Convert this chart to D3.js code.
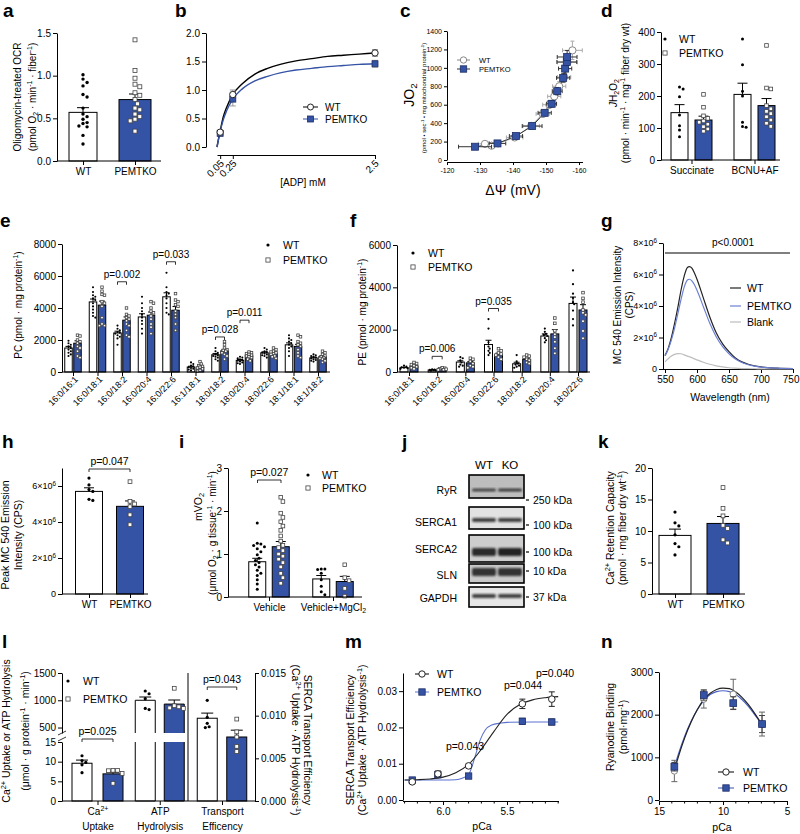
<!DOCTYPE html>
<html><head><meta charset="utf-8">
<script src="https://cdn.jsdelivr.net/npm/d3@7"></script>
<style>body{margin:0;background:#fff;}svg{display:block;}text{font-family:"Liberation Sans",Arial,Helvetica,sans-serif;}</style>
</head><body><script>
// ================= DATA =================
// a
const aCats = ["WT","PEMTKO"];
const aMeans = [0.57, 0.72];
const aSem = [0.055, 0.065];
const aWT = [1.01,0.96,0.92,0.88,0.78,0.75,0.62,0.55,0.52,0.49,0.45,0.44,0.41,0.40,0.30,0.20];
const aKO = [1.42,1.06,0.97,0.90,0.87,0.80,0.77,0.72,0.67,0.62,0.60,0.55,0.52,0.49,0.47,0.35];
const aTicks = [0,0.5,1.0,1.5];
// b
const bX = [0.05,0.25,2.5];
const bWT = [0.26,0.92,1.65], bWTerr = [0.03,0.08,0.06];
const bKO = [0.24,0.84,1.46], bKOerr = [0.03,0.12,0.06];
const bFitX  = [0,0.02,0.05,0.1,0.15,0.25,0.4,0.6,0.8,1.0,1.25,1.5,1.75,2.0,2.25,2.5];
const bFitWT = [0,0.12,0.28,0.53,0.69,0.92,1.11,1.28,1.38,1.45,1.51,1.55,1.59,1.61,1.63,1.65];
const bFitKO = [0,0.11,0.27,0.48,0.63,0.84,1.02,1.16,1.24,1.30,1.35,1.38,1.41,1.43,1.45,1.46];
const bYTicks = [0,0.5,1.0,1.5,2.0];
// c
const cWTx = [-131.5,-133.5,-140.5,-145.5,-149,-151,-152.5,-154,-155.5,-156.5,-158];
const cWTy = [175,155,245,370,500,600,690,800,900,1060,1190];
const cWTxe = [2,2,2.5,2.5,2,2,2,2,2,3,3];
const cWTye = [20,20,25,30,35,40,40,50,60,80,100];
const cKOx = [-128.5,-135.3,-140.9,-145.8,-149.6,-151.7,-153.4,-155.2,-155.8,-156.3,-156.4];
const cKOy = [144,180,260,368,512,610,747,891,992,1064,1118];
const cKOxe = [5,2.5,2,3,2,1.5,1.5,2,2,3,3];
const cKOye = [15,20,20,25,30,35,40,45,50,60,70];
const cYTicks = [0,200,400,600,800,1000,1200,1400];
const cXTicks = [-120,-130,-140,-150,-160];
// d
const dCats = ["Succinate","BCNU+AF"];
const dMeansWT = [148,205], dSemWT = [25,35];
const dMeansKO = [125,170], dSemKO = [12,22];
const dPtsWT = [[228,222,198,141,107,94,73],[378,298,215,200,118,105,102]];
const dPtsKO = [[205,165,138,130,122,118,112,104,97,90],[358,225,222,170,160,152,145,135,125,115,105]];
const dTicks = [0,100,200,300,400];
// e
const eCats = ["16:0/16:1","16:0/18:1","16:0/18:2","16:0/20:4","16:0/22:6","16:1/18:1","18:0/18:2","18:0/20:4","18:0/22:6","18:1/18:1","18:1/18:2"];
const eMeansWT = [1500,4380,2440,3440,4700,310,1080,730,1200,1700,880];
const eMeansKO = [1800,4180,3240,3550,3860,300,1320,1040,1180,1600,950];
const eSemWT = [100,180,110,200,250,50,80,50,60,120,50];
const eSemKO = [150,250,200,200,230,60,90,50,60,130,60];
const ePtsWT = [[1950,1800,1700,1600,1500,1400,1300,1200,1100,1000],[5300,5000,4800,4700,4600,4500,4300,4100,3900,3700,3500,3400],[2900,2700,2600,2500,2450,2400,2300,2200,2100,1700],[4700,4300,4000,3800,3600,3400,3200,3000,2700,2400],[6200,5300,5000,4900,4800,4600,4300,4000,3700,3600],[600,500,400,350,300,250,200,150,100],[1500,1300,1200,1100,1050,1000,950,900,800,700],[950,900,850,800,750,700,650,600,550,500],[1500,1400,1300,1250,1200,1150,1100,1050,1000,900],[2300,2100,2000,1900,1800,1700,1600,1500,1300,1000],[1100,1050,1000,950,900,850,800,750,700,650]];
const ePtsKO = [[2300,2250,2000,1900,1800,1600,1500,1300,1000,900],[5300,5050,4850,4800,4400,4300,4100,3400,3000,2900,2900],[4000,3600,3500,3400,3300,3200,3000,2900,2600,2300,2200],[4400,4300,4000,3800,3700,3500,3300,3000,2800,2400],[4900,4500,4400,4200,4100,3800,3600,3400,3000,2600],[650,500,400,350,300,250,200,100,50],[1900,1700,1500,1400,1350,1300,1200,1100,1000,800],[1250,1200,1150,1100,1050,1000,950,900,800,700],[1500,1400,1300,1250,1200,1150,1100,1000,950,850],[2300,2200,1900,1800,1700,1600,1400,1200,1000,900],[1300,1200,1100,1000,950,900,850,800,700,600]];
const eTicks = [0,2000,4000,6000,8000];
const eP = [{cat:"16:0/18:2",v:5640,t:"p=0.002"},{cat:"16:0/22:6",v:6890,t:"p=0.033"},{cat:"18:0/18:2",v:2190,t:"p=0.028"},{cat:"18:0/20:4",v:3240,t:"p=0.011"}];
// f
const fCats = ["16:0/18:1","16:0/18:2","16:0/20:4","16:0/22:6","18:0/18:2","18:0/20:4","18:0/22:6"];
const fMeansWT = [205,95,470,1300,390,1700,3240];
const fMeansKO = [285,140,430,820,600,1800,2930];
const fSemWT = [20,10,60,200,70,100,300];
const fSemKO = [40,15,60,70,50,200,250];
const fPtsWT = [[300,250,220,200,180,150],[130,110,100,90,80,60],[700,650,550,450,350,300,250],[2500,2050,1400,1200,1100,1000,900,800],[800,500,400,350,300,250,200],[2050,1900,1800,1750,1700,1600,1500,1400],[4800,4150,3700,3500,3300,3200,2900,2500,2200]];
const fPtsKO = [[450,400,350,300,250,200,150],[200,180,150,130,110,100],[650,600,500,400,300,250,200],[1100,1000,900,850,800,700,600],[800,750,700,600,550,450,400],[2550,2300,1950,1780,1650,1430,1120,880],[3750,3480,3300,2930,2800,2700,2400,1940,1590]];
const fTicks = [0,2000,4000,6000];
const fP = [{cat:"16:0/18:2",v:740,t:"p=0.006"},{cat:"16:0/22:6",v:3000,t:"p=0.035"}];
// g
const gNm    = [550,555,560,565,570,575,580,585,588,592,596,600,610,620,630,640,650,660,670,680,690,700,725,750];
const gWT    = [0.85,1.3,2.0,2.9,3.9,5.0,5.9,6.45,6.5,6.4,6.1,5.7,4.5,3.3,2.3,1.6,1.1,0.7,0.45,0.3,0.2,0.13,0.05,0.02];
const gKO    = [0.85,1.25,1.85,2.6,3.5,4.4,5.2,5.65,5.7,5.6,5.35,5.0,3.95,2.9,2.05,1.42,0.97,0.63,0.41,0.27,0.18,0.12,0.05,0.02];
const gBlank = [0.45,0.65,0.82,0.93,0.98,0.97,0.9,0.82,0.78,0.72,0.64,0.58,0.43,0.3,0.2,0.13,0.08,0.05,0.03,0.02,0.015,0.01,0.005,0];
const gYTicks = [0,2e6,4e6,6e6,8e6];
const gXTicks = [550,600,650,700,750];
// h
const hCats = ["WT","PEMTKO"];
const hMeans = [5.7e6,4.87e6], hSem = [0.2e6,0.3e6];
const hWT = [6.44e6,6.06e6,5.8e6,5.7e6,5.26e6,5.2e6];
const hKO = [6.24e6,5.15e6,5.0e6,4.85e6,4.4e6,3.85e6];
const hTicks = [0,2e6,4e6,6e6];
// i
const iCats = ["Vehicle","Vehicle+MgCl_{2}"];
const iMeansWT = [0.82,0.42], iSemWT = [0.08,0.08];
const iMeansKO = [1.17,0.36], iSemKO = [0.12,0.12];
const iPtsWT = [[1.72,1.25,1.23,1.2,1.17,1.12,1.05,0.98,0.9,0.85,0.8,0.75,0.7,0.62,0.55,0.5,0.4,0.3,0.18],[0.65,0.65,0.64,0.55,0.4,0.25,0.12,0.05]];
const iPtsKO = [[2.32,2.22,1.95,1.85,1.75,1.65,1.55,1.42,1.3,1.2,1.15,1.08,1.0,0.95,0.88,0.8,0.7,0.55,0.45,0.32],[0.75,0.45,0.38,0.2,0.02]];
const iTicks = [0,1,2,3];
// j
const blotProteins = ["RyR","SERCA1","SERCA2","SLN","GAPDH"];
const blotMarkers = ["250 kDa","100 kDa","100 kDa","10 kDa","37 kDa"];
const blotLanes = ["WT","KO"];
const blotIntensity = [[0.8,0.85],[0.85,0.85],[0.95,1.0],[0.9,0.9],[0.85,0.85]];
// k
const kCats = ["WT","PEMTKO"];
const kMeans = [9.3,11.2], kSem = [1.0,1.1];
const kWT = [13.0,11.3,10.8,9.4,8.0,7.5,6.2];
const kKO = [16.9,13.6,12.4,10.9,10.4,8.6,8.1];
const kTicks = [0,5,10,15,20];
// l
const lCats = ["Ca^{2+}|Uptake","ATP|Hydrolysis","Transport|Efficency"];
const lMeansWT = [9.6,1000,0.0097], lSemWT = [0.8,60,0.0006];
const lMeansKO = [6.9,930,0.0075], lSemKO = [0.4,75,0.0008];
const lPtsWT = [[11.5,10.3,9.8,9.2,7.2],[1170,1120,1030,850,830],[0.0118,0.0098,0.0091,0.0087,0.0086]];
const lPtsKO = [[7.8,7.8,7.7,7.0,4.5],[1220,900,880,860,850],[0.0096,0.0081,0.0075,0.0064,0.0058]];
const lLoTicks = [0,5,10,15], lHiTicks = [500,1000,1500], lRTicks = [0,0.005,0.010,0.015];
// m
const mPCa = [6.24,6.04,5.80,5.38,5.15];
const mWT = [0.0050,0.0072,0.0094,0.0265,0.0278], mWTerr = [0.0004,0.0008,0.0005,0.0013,0.0020];
const mKO = [0.0055,0.0070,0.0066,0.0217,0.0215], mKOerr = [0.0004,0.0005,0.0005,0.0008,0.0008];
const mFitX  = [6.3,6.2,6.1,6.0,5.9,5.8,5.7,5.6,5.5,5.4,5.3,5.2,5.1];
const mFitWT = [0.0055,0.0056,0.0058,0.0063,0.0075,0.0098,0.0140,0.0190,0.0236,0.0263,0.0276,0.0282,0.0285];
const mFitKOx = [6.3,6.0,5.9,5.85,5.8,5.75,5.71,5.67,5.62,5.55,5.5,5.3,5.1];
const mFitKO  = [0.0055,0.0055,0.0056,0.0060,0.0070,0.0119,0.0165,0.0193,0.0207,0.0212,0.0214,0.0215,0.0215];
const mYTicks = [0,0.01,0.02,0.03], mXTicks = [6.0,5.5];
// n
const nPCa = [13.8,11.5,9.2,6.95];
const nWT = [680,2365,2480,1780], nWTerr = [250,210,350,280];
const nKO = [780,2460,2270,1780], nKOerr = [100,120,150,200];
const nFitX  = [13.8,13.5,13,12.5,12,11.5,11,10.5,10,9.5,9,8.5,8,7.5,6.95];
const nFitWT = [690,1000,1450,1820,2120,2350,2500,2590,2620,2610,2530,2400,2230,2020,1760];
const nFitKO = [760,1060,1490,1840,2120,2330,2470,2540,2560,2540,2470,2350,2190,1990,1780];
const nYTicks = [0,1000,2000,3000], nXTicks = [15,10,5];

// ================= HELPERS =================
const FONT = '"Liberation Sans", Arial, Helvetica, sans-serif';
const BLUE = "#3553a5", BLUE_S = "#1e2f66";
const svg = d3.select("body").append("svg").attr("width",800).attr("height",834).attr("font-family",FONT);
svg.append("rect").attr("width",800).attr("height",834).attr("fill","#fff");
const defs = svg.append("defs");
defs.append("filter").attr("id","blur").attr("x","-20%").attr("y","-50%").attr("width","140%").attr("height","200%")
  .append("feGaussianBlur").attr("stdDeviation",1.1);

function rich(t, s, fs) {
  const parts = s.split(/(\^\{[^}]*\}|_\{[^}]*\}|~\{[^}]*\})/).filter(p => p !== "");
  let shift = 0;
  parts.forEach(p => {
    let target = 0, txt = p, small = false, ital = false;
    if (p.startsWith("^{")) { target = -fs*0.38; txt = p.slice(2,-1); small = true; }
    else if (p.startsWith("_{")) { target = fs*0.22; txt = p.slice(2,-1); small = true; }
    else if (p.startsWith("~{")) { txt = p.slice(2,-1); ital = true; }
    const sp = t.append("tspan").text(txt);
    if (target - shift !== 0) sp.attr("dy", target - shift);
    if (small) sp.attr("font-size", fs*0.7);
    if (ital) sp.attr("font-style","italic");
    shift = target;
  });
  return t;
}
function txt(x, y, s, fs=10, anchor="start", extra={}) {
  const t = svg.append("text").attr("x",x).attr("y",y).attr("font-size",fs).attr("text-anchor",anchor).attr("fill",extra.fill||"#000");
  if (extra.weight) t.attr("font-weight",extra.weight);
  return rich(t, s, fs);
}
function vlabel(s, cx, cy, fs=10, rot=-90) {
  const bx = rot === -90 ? cx + fs*0.36 : cx - fs*0.36;
  const t = svg.append("text").attr("transform",`translate(${bx},${cy}) rotate(${rot})`).attr("text-anchor","middle").attr("font-size",fs);
  return rich(t, s, fs);
}
function plabel(s, x, y) { txt(x, y, s, 19, "start", {weight:"bold"}); }

function styleAxis(g, fmt, fs) {
  g.attr("font-family",FONT).attr("font-size",fs);
  g.selectAll(".tick text").each(function(d){ const t = d3.select(this); t.text(null); rich(t, fmt(d), fs); });
  g.selectAll("path.domain, .tick line").attr("stroke","#000").attr("stroke-width",1);
  return g;
}
function yAxis(scale, x, ticks, fmt, fs=10, right=false, ts=4) {
  const ax = (right ? d3.axisRight(scale) : d3.axisLeft(scale)).tickValues(ticks).tickSizeInner(ts).tickSizeOuter(0).tickPadding(2);
  return styleAxis(svg.append("g").attr("transform",`translate(${x},0)`).call(ax), fmt, fs);
}
function xAxis(scale, y, ticks, fmt, fs=10, ts=4, pad=3) {
  const ax = d3.axisBottom(scale).tickValues(ticks).tickSizeInner(ts).tickSizeOuter(0).tickPadding(pad);
  return styleAxis(svg.append("g").attr("transform",`translate(0,${y})`).call(ax), fmt, fs);
}
function catAxis(scale, y, x0, x1, fmt, fs=10) {
  const g = xAxis(scale, y, scale.domain(), fmt, fs);
  g.select(".domain").remove();
  g.append("line").attr("x1",x0).attr("x2",x1).attr("stroke","#000").attr("stroke-width",1);
  return g;
}
function rotTicks(g, dx, dy) {
  g.selectAll(".tick text").attr("text-anchor","end").attr("x",dx).attr("y",dy).attr("dy",0)
    .attr("transform",`rotate(-45,${dx},${dy})`);
}
function marker(kind, x, y, s) {
  if (kind === "dot") svg.append("circle").attr("cx",x).attr("cy",y).attr("r",s).attr("fill","#000");
  else if (kind === "sq") svg.append("rect").attr("x",x-s).attr("y",y-s).attr("width",2*s).attr("height",2*s).attr("fill","#fff").attr("stroke","#444").attr("stroke-width",0.8);
  else if (kind === "circ") svg.append("circle").attr("cx",x).attr("cy",y).attr("r",s).attr("fill","#fff").attr("stroke","#222").attr("stroke-width",1);
  else if (kind === "gcirc") svg.append("circle").attr("cx",x).attr("cy",y).attr("r",s).attr("fill","#fff").attr("stroke","#888").attr("stroke-width",1);
  else if (kind === "bsq") svg.append("rect").attr("x",x-s).attr("y",y-s).attr("width",2*s).attr("height",2*s).attr("fill",BLUE).attr("stroke",BLUE_S).attr("stroke-width",0.8);
}
function swarm(vals, yS, d, maxOff) {
  const placed = [], offs = new Array(vals.length);
  const idx = vals.map((_,i)=>i).sort((a,b)=>vals[b]-vals[a]);
  for (const i of idx) {
    const y = yS(vals[i]);
    let k = 0, off = 0, best = 0, bestD = -1;
    while (k < 60) {
      off = k === 0 ? 0 : (k % 2 === 1 ? 1 : -1) * Math.ceil(k/2) * d * 0.5;
      if (maxOff != null && Math.abs(off) > maxOff) break;
      const md = placed.length ? Math.min(...placed.map(p => Math.hypot(p.x - off, p.y - y))) : 1e9;
      if (md > bestD) { bestD = md; best = off; }
      if (md >= d) { best = off; break; }
      k++;
    }
    placed.push({x:best, y}); offs[i] = best;
  }
  return offs;
}
function bar(cx, w, yTop, yBase, fill) {
  svg.append("rect").attr("x",cx-w/2).attr("y",yTop).attr("width",w).attr("height",yBase-yTop)
    .attr("fill",fill).attr("stroke","#000").attr("stroke-width",1);
}
function errUp(cx, y0, y1, cap, col="#000") {
  svg.append("path").attr("d",`M${cx},${y0}V${y1}M${cx-cap},${y1}H${cx+cap}`).attr("stroke",col).attr("stroke-width",1).attr("fill","none");
}
function errBar(cx, y0, y1, cap, col) {
  svg.append("path").attr("d",`M${cx},${y0}V${y1}M${cx-cap},${y0}H${cx+cap}M${cx-cap},${y1}H${cx+cap}`).attr("stroke",col).attr("stroke-width",1).attr("fill","none");
}
function errBarH(cy, x0, x1, cap, col) {
  svg.append("path").attr("d",`M${x0},${cy}H${x1}M${x0},${cy-cap}V${cy+cap}M${x1},${cy-cap}V${cy+cap}`).attr("stroke",col).attr("stroke-width",1).attr("fill","none");
}
function barSet(cx, w, mean, sem, pts, y, fill, kind, ms, cap, spread, maxOff) {
  const y0 = y.range()[0];
  bar(cx, w, y(mean), y0, fill);
  errUp(cx, y(mean), y(mean+sem), cap);
  const offs = swarm(pts, y, spread || ms*2.4, maxOff);
  pts.forEach((v,i) => marker(kind, cx + offs[i], y(v), ms));
}
function bracket(x1, x2, yy, label, fs=10) {
  svg.append("path").attr("d",`M${x1},${yy+3}V${yy}H${x2}V${yy+3}`).attr("fill","none").attr("stroke","#000").attr("stroke-width",0.8);
  txt((x1+x2)/2, yy-4, label, fs, "middle");
}
function legendPts(x, y1, y2, tx, fs, ms) {
  marker("dot", x, y1, ms); txt(tx, y1+fs*0.36, "WT", fs);
  marker("sq", x, y2, ms+0.5); txt(tx, y2+fs*0.36, "PEMTKO", fs);
}
function legendLines(x0, x1, y1, y2, tx, fs, ms, wtCol, koCol) {
  svg.append("line").attr("x1",x0).attr("x2",x1).attr("y1",y1).attr("y2",y1).attr("stroke",wtCol);
  marker(wtCol === "#888" ? "gcirc" : "circ", (x0+x1)/2, y1, ms);
  txt(tx, y1+fs*0.36, "WT", fs);
  svg.append("line").attr("x1",x0).attr("x2",x1).attr("y1",y2).attr("y2",y2).attr("stroke",koCol);
  marker("bsq", (x0+x1)/2, y2, ms);
  txt(tx, y2+fs*0.36, "PEMTKO", fs);
}
const fmtSci = d => d === 0 ? "0" : `${d/1e6}×10^{6}`;

// ================= PANEL a =================
plabel("a", 3, 17);
{
  const y = d3.scaleLinear().domain([0,1.5]).range([161,33]);
  const x = d3.scalePoint().domain(aCats).range([83,135]);
  barSet(x("WT"), 28, aMeans[0], aSem[0], aWT, y, "#fff", "dot", 1.7, 6);
  barSet(x("PEMTKO"), 32, aMeans[1], aSem[1], aKO, y, BLUE, "sq", 2, 6);
  yAxis(y, 57, aTicks, d => d.toFixed(1));
  catAxis(x, 161, 57, 161, d => d);
  vlabel("Oligomycin-treated OCR", 17, 97);
  vlabel("(pmol O_{2} · min^{-1} · fiber^{-1})", 32, 97);
}
// ================= PANEL b =================
plabel("b", 175, 17);
{
  const x = d3.scaleLinear().domain([0,2.5]).range([217,375]);
  const y = d3.scaleLinear().domain([0,2]).range([147,33]);
  yAxis(y, 206, bYTicks, d => d.toFixed(1));
  const gx = xAxis(x, 155, bX, d => String(d));
  rotTicks(gx, 4, 9);
  txt(303, 186, "[ADP] mM", 10, "middle");
  const line = d3.line().x(d => x(d[0])).y(d => y(d[1])).curve(d3.curveMonotoneX);
  svg.append("path").attr("d", line(bFitX.map((v,i)=>[v,bFitWT[i]]))).attr("fill","none").attr("stroke","#000").attr("stroke-width",1.4);
  svg.append("path").attr("d", line(bFitX.map((v,i)=>[v,bFitKO[i]]))).attr("fill","none").attr("stroke",BLUE).attr("stroke-width",1.4);
  bX.forEach((v,i) => {
    errBar(x(v), y(bKO[i]-bKOerr[i]), y(bKO[i]+bKOerr[i]), 3, "#999");
    errBar(x(v), y(bWT[i]-bWTerr[i]), y(bWT[i]+bWTerr[i]), 3, "#999");
  });
  bX.forEach((v,i) => marker("bsq", x(v), y(bKO[i]), 3));
  bX.forEach((v,i) => marker("circ", x(v), y(bWT[i]), 3.2));
  legendLines(303, 318, 107, 119, 325, 10, 3, "#000", BLUE);
}
// ================= PANEL c =================
plabel("c", 400, 17);
{
  const x = d3.scaleLinear().domain([-120,-160]).range([447,579]);
  const y = d3.scaleLinear().domain([0,1400]).range([160,31]);
  yAxis(y, 447, cYTicks, d => String(d), 7, false, 3);
  const gx = xAxis(x, 162, cXTicks, d => String(d), 7, 3, 3);
  gx.select(".domain").attr("d", `M447,0.5H583`);
  vlabel("JO_{2}", 409, 95, 14);
  vlabel("(pmol • sec^{-1} • mg mitochondrial protein^{-1})", 424, 98, 6);
  txt(513, 195, "ΔΨ (mV)", 14, "middle");
  const line = d3.line().x(d => x(d[0])).y(d => y(d[1]));
  svg.append("path").attr("d", line(cWTx.map((v,i)=>[v,cWTy[i]]))).attr("fill","none").attr("stroke","#999").attr("stroke-width",1);
  svg.append("path").attr("d", line(cKOx.map((v,i)=>[v,cKOy[i]]))).attr("fill","none").attr("stroke","#333").attr("stroke-width",1);
  cWTx.forEach((v,i) => { errBarH(y(cWTy[i]), x(v-cWTxe[i]), x(v+cWTxe[i]), 2, "#aaa"); errBar(x(v), y(cWTy[i]-cWTye[i]), y(cWTy[i]+cWTye[i]), 2, "#aaa"); });
  cWTx.forEach((v,i) => marker("gcirc", x(v), y(cWTy[i]), 3.6));
  cKOx.forEach((v,i) => { errBarH(y(cKOy[i]), x(v-cKOxe[i]), x(v+cKOxe[i]), 2, "#333"); errBar(x(v), y(cKOy[i]-cKOye[i]), y(cKOy[i]+cKOye[i]), 2, "#333"); });
  cKOx.forEach((v,i) => marker("bsq", x(v), y(cKOy[i]), 3.5));
  legendLines(457, 470, 60, 69, 479, 7.5, 3.2, "#888", "#333");
}
// ================= PANEL d =================
plabel("d", 601, 17);
{
  const y = d3.scaleLinear().domain([0,400]).range([160,32]);
  const x = d3.scalePoint().domain(dCats).range([691.5,754.5]);
  dCats.forEach((c,i) => {
    barSet(x(c)-12, 17, dMeansWT[i], dSemWT[i], dPtsWT[i], y, "#fff", "dot", 1.5, 5);
    barSet(x(c)+12, 17, dMeansKO[i], dSemKO[i], dPtsKO[i], y, BLUE, "sq", 1.8, 5);
  });
  yAxis(y, 661, dTicks, d => String(d));
  catAxis(x, 160, 661, 780, d => d);
  vlabel("~{J}H_{2}O_{2}", 613, 93);
  vlabel("(pmol · min^{-1} · mg^{-1} fiber dry wt)", 625, 93);
  legendPts(665, 39, 53, 679, 10.5, 1.6);
}
// ================= PANEL e =================
plabel("e", 0, 227);
{
  const y = d3.scaleLinear().domain([0,8000]).range([372,244]);
  const x = d3.scalePoint().domain(eCats).range([73,318]);
  eCats.forEach((c,i) => {
    barSet(x(c)-4.5, 7.5, eMeansWT[i], eSemWT[i], ePtsWT[i], y, "#fff", "dot", 1.05, 3, 2.3, 3.5);
    barSet(x(c)+4.5, 7.5, eMeansKO[i], eSemKO[i], ePtsKO[i], y, BLUE, "sq", 1.25, 3, 2.5, 3.5);
  });
  yAxis(y, 62, eTicks, d => String(d));
  const gx = catAxis(x, 372, 62, 330, d => d, 9);
  rotTicks(gx, 5, 8);
  eP.forEach(p => bracket(x(p.cat)-4.5, x(p.cat)+4.5, y(p.v), p.t));
  vlabel("PC (pmol · mg protein^{-1})", 18, 305);
  legendPts(268, 245, 260, 283, 10.5, 1.6);
}
// ================= PANEL f =================
plabel("f", 350, 227);
{
  const y = d3.scaleLinear().domain([0,6000]).range([372,245]);
  const x = d3.scalePoint().domain(fCats).range([409,578]);
  fCats.forEach((c,i) => {
    barSet(x(c)-5, 8, fMeansWT[i], fSemWT[i], fPtsWT[i], y, "#fff", "dot", 1.1, 3, 2.4, 4);
    barSet(x(c)+5, 8, fMeansKO[i], fSemKO[i], fPtsKO[i], y, BLUE, "sq", 1.3, 3, 2.6, 4);
  });
  yAxis(y, 397, fTicks, d => String(d));
  const gx = catAxis(x, 372, 397, 590, d => d, 9);
  rotTicks(gx, 5, 8);
  fP.forEach(p => bracket(x(p.cat)-5, x(p.cat)+5, y(p.v), p.t));
  vlabel("PE (pmol · mg protein^{-1})", 362, 312);
  legendPts(413, 253, 267, 428, 10.5, 1.6);
}
// ================= PANEL g =================
plabel("g", 601, 227);
{
  const x = d3.scaleLinear().domain([550,750]).range([665,793]);
  const y = d3.scaleLinear().domain([0,8e6]).range([369,243]);
  yAxis(y, 663, gYTicks, fmtSci, 9);
  const gx = xAxis(x, 369, gXTicks, d => String(d), 10);
  gx.select(".domain").attr("d","M663,0.5H793");
  gx.selectAll(".tick text").filter(d => d === 750).attr("text-anchor","end").attr("x",6);
  const line = d3.line().x(d => x(d[0])).y(d => y(d[1]*1e6)).curve(d3.curveMonotoneX);
  svg.append("path").attr("d", line(gNm.map((v,i)=>[v,gBlank[i]]))).attr("fill","none").attr("stroke","#bdbdbd").attr("stroke-width",1.2);
  svg.append("path").attr("d", line(gNm.map((v,i)=>[v,gWT[i]]))).attr("fill","none").attr("stroke","#222").attr("stroke-width",1.2);
  svg.append("path").attr("d", line(gNm.map((v,i)=>[v,gKO[i]]))).attr("fill","none").attr("stroke","#6d80d4").attr("stroke-width",1.2);
  svg.append("line").attr("x1",665).attr("x2",790).attr("y1",253).attr("y2",253).attr("stroke","#000");
  txt(733, 246, "p<0.0001", 10, "middle");
  [["WT","#222",288],["PEMTKO","#6d80d4",306],["Blank","#bdbdbd",322]].forEach(([s,c,yy]) => {
    svg.append("line").attr("x1",730).attr("x2",741).attr("y1",yy).attr("y2",yy).attr("stroke",c).attr("stroke-width",1.2);
    txt(747, yy+3.8, s, 10.5);
  });
  vlabel("MC 540 Emission Intensity", 617, 305);
  vlabel("(CPS)", 629, 305);
  txt(730, 401, "Wavelength (nm)", 10.5, "middle");
}
// ================= PANEL h =================
plabel("h", 2, 448);
{
  const y = d3.scaleLinear().domain([0,7e6]).range([594,468]);
  const x = d3.scalePoint().domain(hCats).range([89,130]);
  barSet(x("WT"), 27, hMeans[0], hSem[0], hWT, y, "#fff", "dot", 1.6, 5);
  barSet(x("PEMTKO"), 27, hMeans[1], hSem[1], hKO, y, BLUE, "sq", 1.9, 5);
  yAxis(y, 62, hTicks, fmtSci, 9);
  catAxis(x, 594, 62, 148, d => d);
  bracket(89, 130, 469, "p=0.047", 10.5);
  vlabel("Peak MC 540 Emission", 5, 535, 10.5);
  vlabel("Intensity (CPS)", 18, 535, 10.5);
}
// ================= PANEL i =================
plabel("i", 179, 448);
{
  const y = d3.scaleLinear().domain([0,3]).range([597,468]);
  const x = d3.scalePoint().domain(iCats).range([269,333]);
  iCats.forEach((c,i) => {
    barSet(x(c)-11.75, 17, iMeansWT[i], iSemWT[i], iPtsWT[i], y, "#fff", "dot", 1.5, 5);
    barSet(x(c)+11.75, 17, iMeansKO[i], iSemKO[i], iPtsKO[i], y, BLUE, "sq", 1.8, 5);
  });
  yAxis(y, 228, iTicks, d => String(d));
  catAxis(x, 597, 228, 362, d => d);
  bracket(257.5, 281, 480, "p=0.027", 10.5);
  legendPts(308, 475, 488, 322, 10.5, 1.6);
  vlabel("mVO_{2}", 198, 507, 10.5);
  vlabel("(μmol O_{2} · g tissue^{-1} · min^{-1})", 212, 533, 10);
}
// ================= PANEL j =================
plabel("j", 402, 448);
{
  const top = [475,507,535,564,587], bot = [498,529,562,583,607];
  const bandY = [490,520,552,572,596], bandH = [3,4,8,8,4];
  const bgs = ["#bdbdbd","#e2e2e2","#cdcdcd","#c9c9c9","#e6e6e6"];
  const mkY = [500,525,552,571,597];
  const xl = d3.scalePoint().domain(blotLanes).range([484,510]);
  blotLanes.forEach(l => txt(xl(l), 469, l, 11.5, "middle"));
  blotProteins.forEach((p,i) => {
    svg.append("rect").attr("x",469).attr("y",top[i]).attr("width",55).attr("height",bot[i]-top[i]).attr("fill",bgs[i]).attr("stroke","#000").attr("stroke-width",1.6);
    blotLanes.forEach((l,j) => {
      const a = blotIntensity[i][j];
      svg.append("rect").attr("x",xl(l)-12).attr("y",bandY[i]-bandH[i]/2).attr("width",24).attr("height",bandH[i]).attr("rx",2)
        .attr("fill","#222").attr("opacity",a).attr("filter","url(#blur)");
    });
    txt(457, [494,526,553,579,602][i], p, 10.5, "end");
    svg.append("line").attr("x1",526).attr("x2",529).attr("y1",mkY[i]).attr("y2",mkY[i]).attr("stroke","#000").attr("stroke-width",1.2);
    txt(533, mkY[i]+4, blotMarkers[i], 10.5);
  });
}
// ================= PANEL k =================
plabel("k", 598, 448);
{
  const y = d3.scaleLinear().domain([0,20]).range([594,468]);
  const x = d3.scalePoint().domain(kCats).range([675,723]);
  barSet(x("WT"), 32, kMeans[0], kSem[0], kWT, y, "#fff", "dot", 1.6, 6);
  barSet(x("PEMTKO"), 32, kMeans[1], kSem[1], kKO, y, BLUE, "sq", 1.9, 6);
  yAxis(y, 652, kTicks, d => String(d));
  catAxis(x, 594, 652, 745, d => d);
  vlabel("Ca^{2+} Retention Capacity", 610, 528, 10.5);
  vlabel("(pmol · mg fiber dry wt^{-1})", 622, 528, 10.5);
}
// ================= PANEL l =================
plabel("l", 2, 648);
{
  const yLo = d3.scaleLinear().domain([0,15]).range([801,742]);
  const yHi = d3.scaleLinear().domain([400,1500]).range([733,673]);
  const yR = d3.scaleLinear().domain([0,0.015]).range([801,673]);
  const x = d3.scalePoint().domain(lCats).range([97.5,222]);
  const cxs = lCats.map(c => x(c));
  barSet(cxs[0]-15.5, 20, lMeansWT[0], lSemWT[0], lPtsWT[0], yLo, "#fff", "dot", 1.6, 6);
  barSet(cxs[0]+15.5, 20, lMeansKO[0], lSemKO[0], lPtsKO[0], yLo, BLUE, "sq", 1.9, 6);
  [[cxs[1]-14.5, lMeansWT[1], lSemWT[1], lPtsWT[1], "#fff", "dot", 1.6],[cxs[1]+14.5, lMeansKO[1], lSemKO[1], lPtsKO[1], BLUE, "sq", 1.9]].forEach(([cx,m,s,pts,fill,kind,ms]) => {
    const w = 20;
    svg.append("rect").attr("x",cx-w/2).attr("y",742).attr("width",w).attr("height",59).attr("fill",fill);
    svg.append("path").attr("d",`M${cx-w/2},742V801H${cx+w/2}V742`).attr("fill","none").attr("stroke","#000");
    svg.append("rect").attr("x",cx-w/2).attr("y",yHi(m)).attr("width",w).attr("height",733-yHi(m)).attr("fill",fill);
    svg.append("path").attr("d",`M${cx-w/2},733V${yHi(m)}H${cx+w/2}V733`).attr("fill","none").attr("stroke","#000");
    errUp(cx, yHi(m), yHi(m+s), 6);
    const offs = swarm(pts, yHi, ms*2.4);
    pts.forEach((v,i) => marker(kind, cx+offs[i], yHi(v), ms));
  });
  barSet(cxs[2]-14.75, 20, lMeansWT[2], lSemWT[2], lPtsWT[2], yR, "#fff", "dot", 1.6, 6);
  barSet(cxs[2]+14.75, 20, lMeansKO[2], lSemKO[2], lPtsKO[2], yR, BLUE, "sq", 1.9, 6);
  svg.append("line").attr("x1",188).attr("x2",188).attr("y1",673).attr("y2",801).attr("stroke","#000");
  yAxis(yLo, 62, lLoTicks, d => String(d));
  yAxis(yHi, 62, lHiTicks, d => String(d));
  svg.append("path").attr("d","M58,735L66,731M58,741L66,737").attr("stroke","#000").attr("stroke-width",0.8);
  yAxis(yR, 255, lRTicks, d => d.toFixed(3), 10, true);
  const gx = catAxis(x, 801, 62, 255, d => d.split("|")[0]);
  gx.selectAll(".tick text").each(function(d){ const t = d3.select(this); t.text(null); t.attr("dy","0.71em");
    const parts = d.split("|");
    const a = t.append("tspan").attr("x",0); rich(a, parts[0], 10);
    t.append("tspan").attr("x",0).attr("dy", parts[0].includes("^") ? 18.8 : 15).text(parts[1]);
  });
  bracket(cxs[0]-15.5, cxs[0]+15.5, 739, "p=0.025", 10.5);
  bracket(cxs[2]-14.75, cxs[2]+14.75, 687, "p=0.043", 10.5);
  legendPts(68, 681, 699, 83, 10.5, 1.6);
  vlabel("Ca^{2+} Uptake or ATP Hydrolysis", 6, 731, 10.5);
  vlabel("(μmol · g protein^{-1} · min^{-1})", 25, 731, 10.5);
  vlabel("SERCA Transport Efficiency", 308, 740, 10.5, 90);
  vlabel("(Ca^{2+} Uptake · ATP Hydrolysis^{-1})", 296, 740, 10.5, 90);
}
// ================= PANEL m =================
plabel("m", 345, 648);
{
  const x = d3.scaleLinear().domain([6.3,5.1]).range([404.6,558.2]);
  const y = d3.scaleLinear().domain([0,0.035]).range([800,673]);
  yAxis(y, 403, mYTicks, d => d.toFixed(2));
  const gx = xAxis(x, 801, mXTicks, d => d.toFixed(1), 10, 4);
  gx.select(".domain").attr("d","M403,0.5H559");
  const minor = d3.range(6.3, 5.09, -0.1).filter(v => Math.abs(v-6.0)>0.01 && Math.abs(v-5.5)>0.01);
  gx.selectAll(".minor").data(minor).enter().append("line").attr("x1",d=>x(d)).attr("x2",d=>x(d)).attr("y1",0).attr("y2",2.5).attr("stroke","#000");
  const line = d3.line().x(d => x(d[0])).y(d => y(d[1])).curve(d3.curveMonotoneX);
  svg.append("path").attr("d", line(mFitKOx.map((v,i)=>[v,mFitKO[i]]))).attr("fill","none").attr("stroke","#5b72cf").attr("stroke-width",1.1);
  svg.append("path").attr("d", line(mFitX.map((v,i)=>[v,mFitWT[i]]))).attr("fill","none").attr("stroke","#222").attr("stroke-width",1.1);
  mPCa.forEach((v,i) => errBar(x(v), y(mKO[i]-mKOerr[i]), y(mKO[i]+mKOerr[i]), 3, "#222"));
  mPCa.forEach((v,i) => marker("bsq", x(v), y(mKO[i]), 3.2));
  mPCa.forEach((v,i) => errBar(x(v), y(mWT[i]-mWTerr[i]), y(mWT[i]+mWTerr[i]), 3, "#222"));
  mPCa.forEach((v,i) => marker("circ", x(v), y(mWT[i]), 3.3));
  legendLines(415, 429, 674, 692, 437, 10.5, 3.2, "#000", "#5b72cf");
  txt(465, 750, "p=0.043", 10.5, "middle");
  txt(523, 689, "p=0.044", 10.5, "middle");
  txt(555, 677, "p=0.040", 10.5, "middle");
  vlabel("SERCA Transport Efficiency", 350, 740, 10.5);
  vlabel("(Ca^{2+} Uptake · ATP Hydrolysis^{-1})", 362, 740, 10.5);
  txt(482, 830, "pCa", 10.5, "middle");
}
// ================= PANEL n =================
plabel("n", 601, 648);
{
  const x = d3.scaleLinear().domain([15,5]).range([659,787]);
  const y = d3.scaleLinear().domain([0,3000]).range([800,672]);
  yAxis(y, 659, nYTicks, d => String(d));
  const gx = xAxis(x, 801, nXTicks, d => String(d), 10, 4);
  const minor = d3.range(14,5,-1).filter(v => v !== 10);
  gx.selectAll(".minor").data(minor).enter().append("line").attr("x1",d=>x(d)).attr("x2",d=>x(d)).attr("y1",0).attr("y2",2.5).attr("stroke","#000");
  const line = d3.line().x(d => x(d[0])).y(d => y(d[1])).curve(d3.curveMonotoneX);
  svg.append("path").attr("d", line(nFitX.map((v,i)=>[v,nFitKO[i]]))).attr("fill","none").attr("stroke","#4c63c4").attr("stroke-width",1.2);
  svg.append("path").attr("d", line(nFitX.map((v,i)=>[v,nFitWT[i]]))).attr("fill","none").attr("stroke","#222").attr("stroke-width",1.2);
  nPCa.forEach((v,i) => errBar(x(v), y(nWT[i]-nWTerr[i]), y(nWT[i]+nWTerr[i]), 3, "#666"));
  nPCa.forEach((v,i) => marker("gcirc", x(v), y(nWT[i]), 3.2));
  nPCa.forEach((v,i) => errBar(x(v), y(nKO[i]-nKOerr[i]), y(nKO[i]+nKOerr[i]), 3, "#444"));
  nPCa.forEach((v,i) => marker("bsq", x(v), y(nKO[i]), 3.4));
  legendLines(718, 734, 772, 788, 743, 10.5, 3.2, "#000", BLUE);
  vlabel("Ryanodine Binding", 610, 727, 10.5);
  vlabel("(pmol·mg^{-1})", 623, 727, 10.5);
  txt(722, 831, "pCa", 10.5, "middle");
}
</script></body></html>
